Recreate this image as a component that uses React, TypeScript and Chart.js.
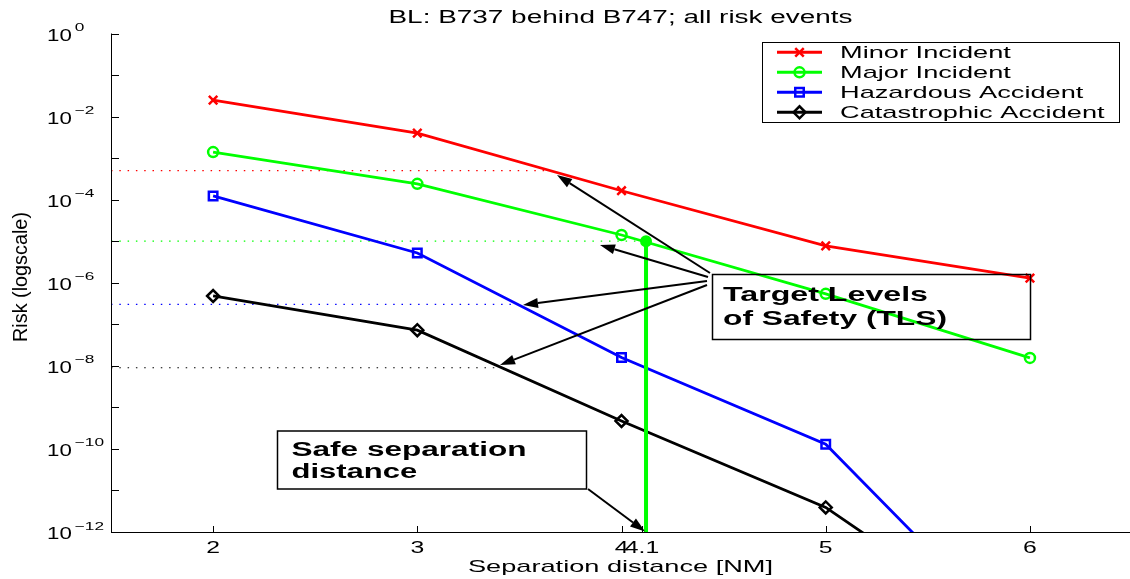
import React, { useEffect, useRef } from "react";
import { Chart, registerables } from "chart.js";

Chart.register(...registerables);

// ---------- data ----------
const separationNM = [2, 3, 4, 5, 6];
const minorIncident = [2.5e-2, 4.0e-3, 1.64e-4, 7.7e-6, 1.3e-6];
const majorIncident = [1.4e-3, 2.4e-4, 1.41e-5, 5.4e-7, 1.55e-8];
const hazardousAccident = [1.23e-4, 5.2e-6, 1.58e-8, 1.3e-10, 1.3e-15];
const catastrophicAccident = [4.8e-7, 7.2e-8, 4.7e-10, 3.9e-12, 1.7e-15];

const seriesNames = ["Minor Incident", "Major Incident", "Hazardous Accident", "Catastrophic Accident"];
const seriesColors = ["#ff0000", "#00ff00", "#0000ff", "#000000"];
const seriesMarkers = ["crossRot", "circle", "rect", "rectRot"];

// target levels of safety and where each dotted TLS line meets its curve
const tlsLevels = [5e-4, 1e-5, 3e-7, 9e-9];
const tlsEnds = [3.66, 4.1, 3.49, 3.41];

const safeSeparation = 4.12;
const xTickValues = [2, 3, 4, 4.1, 5, 6];
const xTickLabels = ["2", "3", "4", "4.1", "5", "6"];
const yTickExponents = [0, -1, -2, -3, -4, -5, -6, -7, -8, -9, -10, -11, -12];
const yLabelExponents = [0, -2, -4, -6, -8, -10, -12];

const titleText = "BL: B737 behind B747; all risk events";
const xTitle = "Separation distance [NM]";
const yTitle = "Risk (logscale)";
const tlsNote = ["Target Levels", "of Safety (TLS)"];
const safeNote = ["Safe separation", "distance"];

// ---------- helpers ----------
const FONT = '"Liberation Sans", Arial, Helvetica, sans-serif';
const SX = 1.6;

function sText(
  ctx: CanvasRenderingContext2D,
  text: string,
  x: number,
  y: number,
  size: number,
  opts: { bold?: boolean; align?: "left" | "center" | "right"; sx?: number; width?: number } = {}
) {
  ctx.save();
  ctx.font = `${opts.bold ? "bold " : ""}${size}px ${FONT}`;
  ctx.textBaseline = "alphabetic";
  ctx.textAlign = "left";
  const m = ctx.measureText(text).width;
  const sx = opts.width ? opts.width / m : opts.sx ?? SX;
  const w = m * sx;
  let left = x;
  if (opts.align === "center") left = x - w / 2;
  else if (opts.align === "right") left = x - w;
  ctx.translate(left, y);
  ctx.scale(sx, 1);
  ctx.fillStyle = "#000";
  ctx.fillText(text, 0, 0);
  ctx.restore();
  return w;
}

function arrow(ctx: CanvasRenderingContext2D, x0: number, y0: number, x1: number, y1: number) {
  const ang = Math.atan2(y1 - y0, x1 - x0);
  const L = 15;
  const H = 5;
  const bx = x1 - L * Math.cos(ang);
  const by = y1 - L * Math.sin(ang);
  ctx.save();
  ctx.strokeStyle = "#000";
  ctx.fillStyle = "#000";
  ctx.lineWidth = 2;
  ctx.beginPath();
  ctx.moveTo(x0, y0);
  ctx.lineTo(bx, by);
  ctx.stroke();
  ctx.beginPath();
  ctx.moveTo(x1, y1);
  ctx.lineTo(bx + H * Math.sin(ang), by - H * Math.cos(ang));
  ctx.lineTo(bx - H * Math.sin(ang), by + H * Math.cos(ang));
  ctx.closePath();
  ctx.fill();
  ctx.restore();
}

function drawMarker(ctx: CanvasRenderingContext2D, style: string, x: number, y: number, color: string) {
  ctx.save();
  ctx.strokeStyle = color;
  ctx.lineWidth = 2.5;
  ctx.beginPath();
  if (style === "circle") {
    ctx.arc(x, y, 5, 0, Math.PI * 2);
  } else if (style === "rect") {
    const s = 6 * Math.SQRT1_2;
    ctx.rect(x - s, y - s, 2 * s, 2 * s);
  } else if (style === "rectRot") {
    ctx.moveTo(x - 6, y);
    ctx.lineTo(x, y - 6);
    ctx.lineTo(x + 6, y);
    ctx.lineTo(x, y + 6);
    ctx.closePath();
  } else {
    const d = 6 * Math.SQRT1_2;
    ctx.moveTo(x - d, y - d);
    ctx.lineTo(x + d, y + d);
    ctx.moveTo(x + d, y - d);
    ctx.lineTo(x - d, y + d);
  }
  ctx.stroke();
  ctx.restore();
}

const decorPlugin = {
  id: "decor",
  afterDraw(chart: any) {
    const ctx: CanvasRenderingContext2D = chart.ctx;
    const { left, right, top, bottom } = chart.chartArea;
    const xs = chart.scales.x;
    const ys = chart.scales.y;

    // axes
    ctx.save();
    ctx.strokeStyle = "#000";
    ctx.lineWidth = 1;
    ctx.beginPath();
    ctx.moveTo(left + 0.5, top);
    ctx.lineTo(left + 0.5, bottom + 0.5);
    ctx.lineTo(right, bottom + 0.5);
    ctx.stroke();
    yTickExponents.forEach((e) => {
      const y = Math.round(ys.getPixelForValue(Math.pow(10, e))) + 0.5;
      ctx.beginPath();
      ctx.moveTo(left, y);
      ctx.lineTo(left + 8, y);
      ctx.stroke();
    });
    xTickValues.forEach((v) => {
      const x = Math.round(xs.getPixelForValue(v)) + 0.5;
      ctx.beginPath();
      ctx.moveTo(x, bottom);
      ctx.lineTo(x, bottom - 6);
      ctx.stroke();
    });
    ctx.restore();

    // y tick labels 10^e
    yLabelExponents.forEach((e) => {
      const y = ys.getPixelForValue(Math.pow(10, e));
      const w = sText(ctx, "10", 47, y + 7, 16.5, { sx: 1.35 });
      sText(ctx, e === 0 ? "0" : "\u2212" + String(-e), 47 + w + 3, y - 2.5, 11.5, { sx: 1.5 });
    });
    // x tick labels
    xTickValues.forEach((v, i) => {
      sText(ctx, xTickLabels[i], xs.getPixelForValue(v), 553, 16.5, { align: "center", sx: 1.5 });
    });

    // titles
    sText(ctx, titleText, (left + right) / 2, 22.5, 17.5, { align: "center", width: 464 });
    sText(ctx, xTitle, (left + right) / 2, 571.5, 17, { align: "center", width: 305 });
    ctx.save();
    ctx.translate(26.5, 277);
    ctx.rotate(-Math.PI / 2);
    sText(ctx, yTitle, 0, 0, 19.5, { align: "center", width: 130 });
    ctx.restore();

    // legend
    ctx.save();
    ctx.strokeStyle = "#000";
    ctx.lineWidth = 1;
    ctx.strokeRect(762.5, 42.5, 357, 80);
    ctx.restore();
    seriesNames.forEach((name, i) => {
      const yb = 58.3 + i * 20;
      const yc = yb - 6;
      ctx.save();
      ctx.strokeStyle = seriesColors[i];
      ctx.lineWidth = 3;
      ctx.beginPath();
      ctx.moveTo(777, yc);
      ctx.lineTo(822, yc);
      ctx.stroke();
      ctx.restore();
      drawMarker(ctx, seriesMarkers[i], 799.5, yc, seriesColors[i]);
      sText(ctx, name, 840, yb, 17, { sx: 1.6 });
    });

    // annotation boxes
    ctx.save();
    ctx.strokeStyle = "#000";
    ctx.lineWidth = 1.5;
    ctx.strokeRect(712.5, 274.5, 318, 65);
    ctx.strokeRect(277.5, 431, 309, 58);
    ctx.restore();
    sText(ctx, tlsNote[0], 723, 300.5, 21, { bold: true, width: 205 });
    sText(ctx, tlsNote[1], 723, 325, 21, { bold: true, width: 224 });
    sText(ctx, safeNote[0], 291.5, 456, 20, { bold: true, width: 235 });
    sText(ctx, safeNote[1], 291.5, 478.3, 20, { bold: true, sx: 1.55 });

    arrow(ctx, 710, 273, 557, 175);
    arrow(ctx, 708, 277, 600, 245);
    arrow(ctx, 707, 281, 523, 305);
    arrow(ctx, 707, 285, 500, 365);
    arrow(ctx, 588, 489, 645, 531.5);
  },
};

export default function App() {
  const ref = useRef<HTMLCanvasElement | null>(null);

  useEffect(() => {
    if (!ref.current) return;
    const mk = (arr: number[]) => separationNM.map((x, i) => ({ x, y: arr[i] }));
    const series = [minorIncident, majorIncident, hazardousAccident, catastrophicAccident];

    const datasets: any[] = [];
    tlsLevels.forEach((lvl, i) => {
      datasets.push({
        data: [
          { x: 1.5, y: lvl },
          { x: tlsEnds[i], y: lvl },
        ],
        borderColor: seriesColors[i],
        borderWidth: 1.2,
        borderDash: [1.5, 6.8],
        pointRadius: 0,
        order: 10,
      });
    });
    series.forEach((arr, i) => {
      datasets.push({
        label: seriesNames[i],
        data: mk(arr),
        borderColor: seriesColors[i],
        backgroundColor: "transparent",
        pointBackgroundColor: "transparent",
        pointBorderColor: seriesColors[i],
        borderWidth: 2.8,
        pointBorderWidth: 2.5,
        pointStyle: seriesMarkers[i],
        pointRadius: seriesMarkers[i] === "circle" ? 5 : 6,
        order: 2,
      });
    });
    datasets.push({
      data: [
        { x: safeSeparation, y: 1e-12 },
        { x: safeSeparation, y: tlsLevels[1] },
      ],
      borderColor: "#00ff00",
      borderWidth: 4,
      pointRadius: [0, 4],
      pointBackgroundColor: "#00ff00",
      pointBorderColor: "#00ff00",
      order: 0,
    });

    const chart = new Chart(ref.current, {
      type: "line",
      data: { datasets },
      options: {
        animation: false,
        responsive: false,
        devicePixelRatio: 1,
        layout: { autoPadding: false, padding: { left: 111, top: 33.5, right: 0, bottom: 47 } },
        plugins: { legend: { display: false }, tooltip: { enabled: false }, title: { display: false } },
        elements: { line: { tension: 0 } },
        scales: {
          x: { type: "linear", min: 1.5, max: 6.49, display: false },
          y: { type: "logarithmic", min: 1e-12, max: 1, display: false },
        },
      },
      plugins: [decorPlugin],
    });
    return () => chart.destroy();
  }, []);

  return (
    <div style={{ position: "absolute", left: 0, top: 0, width: 1130, height: 579, background: "#fff" }}>
      <canvas ref={ref} width={1130} height={579} style={{ display: "block" }} />
    </div>
  );
}
